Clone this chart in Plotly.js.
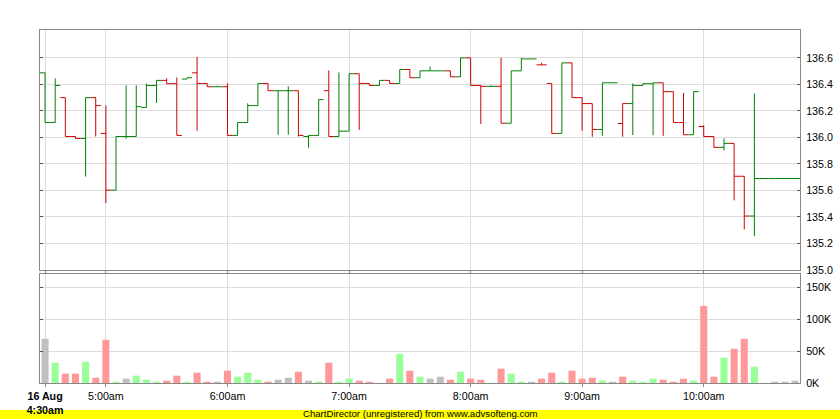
<!DOCTYPE html>
<html><head><meta charset="utf-8">
<script src="https://cdn.plot.ly/plotly-3.0.1.min.js"></script>
<style>html,body{margin:0;padding:0;background:#fff;overflow:hidden;} #chart{width:840px;height:419px;}</style>
</head><body><div id="chart"></div>
<script>
const openP  = [136.487,136.112,136.300,136.007,135.992,136.300,136.030,135.602,136.007,136.007,
                136.225,136.392,136.430,136.405,136.440,136.487,136.407,136.382,136.382,136.015,
                136.112,136.240,136.407,136.352,136.352,136.352,136.007,136.015,136.352,136.007,
                136.047,136.480,136.407,136.392,136.430,136.407,136.512,136.450,136.502,136.502,
                136.502,136.457,136.600,136.392,136.385,136.385,136.107,136.502,136.592,136.547,
                136.407,136.030,136.562,136.300,136.255,136.060,136.412,136.105,136.255,136.392,
                136.405,136.412,136.345,136.112,136.020,136.082,136.007,135.925,135.955,135.707,
                135.407,135.690,135.690,135.690,135.690];
const highP  = [136.487,136.445,136.300,136.007,136.300,136.300,136.240,136.007,136.392,136.392,
                136.407,136.430,136.445,136.452,136.450,136.607,136.407,136.390,136.407,136.112,
                136.257,136.407,136.407,136.352,136.385,136.352,136.015,136.285,136.505,136.490,
                136.480,136.480,136.407,136.430,136.430,136.512,136.512,136.502,136.535,136.502,
                136.502,136.600,136.600,136.392,136.392,136.600,136.502,136.600,136.592,136.562,
                136.407,136.562,136.562,136.300,136.255,136.412,136.412,136.255,136.407,136.407,
                136.412,136.412,136.345,136.335,136.345,136.092,136.007,135.992,135.955,135.707,
                136.332,135.690,135.690,135.690,135.690];
const lowP   = [136.112,136.112,136.007,135.992,135.705,136.007,135.505,135.602,135.990,136.007,
                136.225,136.260,136.405,136.015,136.440,136.050,136.382,136.382,136.015,136.015,
                136.112,136.240,136.352,136.020,136.020,136.007,135.922,136.015,136.007,136.007,
                136.047,136.057,136.392,136.392,136.407,136.407,136.450,136.450,136.502,136.502,
                136.457,136.457,136.392,136.102,136.385,136.107,136.107,136.502,136.592,136.547,
                136.030,136.030,136.300,136.050,136.005,136.012,136.412,136.005,136.017,136.392,
                136.017,136.012,136.112,136.020,136.020,136.007,135.925,135.902,135.525,135.307,
                135.255,135.690,135.690,135.690,135.690];
const closeP = [136.112,136.392,136.007,135.992,136.300,136.240,135.602,136.007,136.007,136.232,
                136.392,136.430,136.405,136.015,136.450,136.407,136.382,136.382,136.015,136.112,
                136.240,136.407,136.352,136.352,136.352,136.015,136.015,136.285,136.007,136.047,
                136.480,136.407,136.392,136.430,136.407,136.512,136.450,136.502,136.502,136.502,
                136.457,136.600,136.392,136.385,136.385,136.107,136.502,136.592,136.592,136.547,
                136.030,136.562,136.300,136.255,136.060,136.412,136.412,136.255,136.392,136.405,
                136.412,136.345,136.112,136.020,136.345,136.007,135.925,135.955,135.707,135.407,
                135.690,135.690,135.690,135.690,135.690];
const volume = [69300,31800,14600,14600,33300,8300,67700,2000,6800,11500,
                5200,2000,3600,11500,2000,16100,2000,2000,19300,9900,
                16100,5200,2000,5200,8300,17700,3600,2000,31800,2000,
                6800,3600,2000,0,6800,45800,19300,9900,6800,9900,
                5200,17700,6800,5200,0,22400,14600,2000,2000,6800,
                16100,2000,19300,6800,8300,3600,2000,9900,3600,2000,
                6800,5200,2000,6800,3600,120800,9900,39600,53600,69300,
                25500,0,2000,2000,3600];
const tickIdx  = [0,6,18,30,42,53,65];
const tickText = ['<b>16 Aug</b><br><b>4:30am</b>','5:00am','6:00am','7:00am','8:00am','9:00am','10:00am'];
const priceTicks = [135.0,135.2,135.4,135.6,135.8,136.0,136.2,136.4,136.6];
const volTicks = [0,50000,100000,150000];
const volTickText = ['0K','50K','100K','150K'];

const idx = openP.map((_, i) => i);
const dir = closeP.map((c, i) => i === 0 ? 0 : Math.sign(Math.round((c - closeP[i-1]) * 1000)));
const upIdx = idx.filter(i => dir[i] >= 0);
const dnIdx = idx.filter(i => dir[i] < 0);

function ohlcTrace(ids, color) {
  return {
    type: 'ohlc', x: ids,
    open: ids.map(i => openP[i]), high: ids.map(i => highP[i]),
    low: ids.map(i => lowP[i]), close: ids.map(i => closeP[i]),
    increasing: {line: {color: color, width: 1}},
    decreasing: {line: {color: color, width: 1}},
    tickwidth: 0.5, xaxis: 'x', yaxis: 'y', hoverinfo: 'skip'
  };
}
const volColors = dir.map(d => d > 0 ? '#99ff99' : (d < 0 ? '#ff9999' : '#c0c0c0'));

const traces = [
  ohlcTrace(upIdx, '#008000'),
  ohlcTrace(dnIdx, '#cc0000'),
  {type: 'bar', x: idx, y: volume, width: 0.7, marker: {color: volColors, line: {width: 0}},
   xaxis: 'x', yaxis: 'y2', hoverinfo: 'skip'}
];

const W = 760, H = 353;
const fnt = {family: 'Liberation Sans, Arial, sans-serif', size: 10.7, color: '#000'};
const yCommon = {
  side: 'right', tickmode: 'array',
  showgrid: true, gridcolor: '#dddddd', zeroline: false,
  showline: true, linecolor: '#888888', linewidth: 1, mirror: 'all',
  ticks: 'inside', ticklen: 3, tickcolor: '#555555', tickfont: fnt, fixedrange: true,
  ticklabelstandoff: 3
};
const layout = {
  width: 840, height: 419,
  margin: {l: 40, r: 40, t: 30, b: 36, pad: 0},
  paper_bgcolor: '#ffffff', plot_bgcolor: '#ffffff',
  showlegend: false, font: fnt,
  xaxis: {
    range: [-0.5, 74.5], tickmode: 'array', tickvals: tickIdx, ticktext: tickText,
    showgrid: true, gridcolor: '#dddddd', gridwidth: 1, zeroline: false,
    showline: true, linecolor: '#888888', linewidth: 1, mirror: 'all',
    ticks: 'outside', ticklen: 3, tickcolor: '#888888',
    anchor: 'y2', rangeslider: {visible: false}, fixedrange: true, tickfont: fnt
  },
  yaxis: Object.assign({}, yCommon, {
    domain: [0.3201, 1], range: [135.0, 136.81],
    tickvals: priceTicks, ticktext: priceTicks.map(v => v.toFixed(1))
  }),
  yaxis2: Object.assign({}, yCommon, {
    domain: [0, 0.3088], range: [0, 170800],
    tickvals: volTicks, ticktext: volTickText
  }),
  shapes: [{
    type: 'rect', xref: 'paper', yref: 'paper',
    x0: -40 / W, x1: 1 + 40 / W, y0: (383 - 420) / H, y1: (383 - 410) / H,
    fillcolor: '#ffff00', line: {width: 0}, layer: 'below'
  }],
  annotations: [{
    xref: 'paper', yref: 'paper', x: 0.5, y: (383 - 413.5) / H,
    xanchor: 'center', yanchor: 'middle', showarrow: false, borderpad: 0,
    text: 'ChartDirector (unregistered) from www.advsofteng.com',
    font: {family: 'Liberation Sans, Arial, sans-serif', size: 9.6, color: '#000'}
  }]
};
Plotly.newPlot('chart', traces, layout, {displayModeBar: false, staticPlot: true});
</script></body></html>
